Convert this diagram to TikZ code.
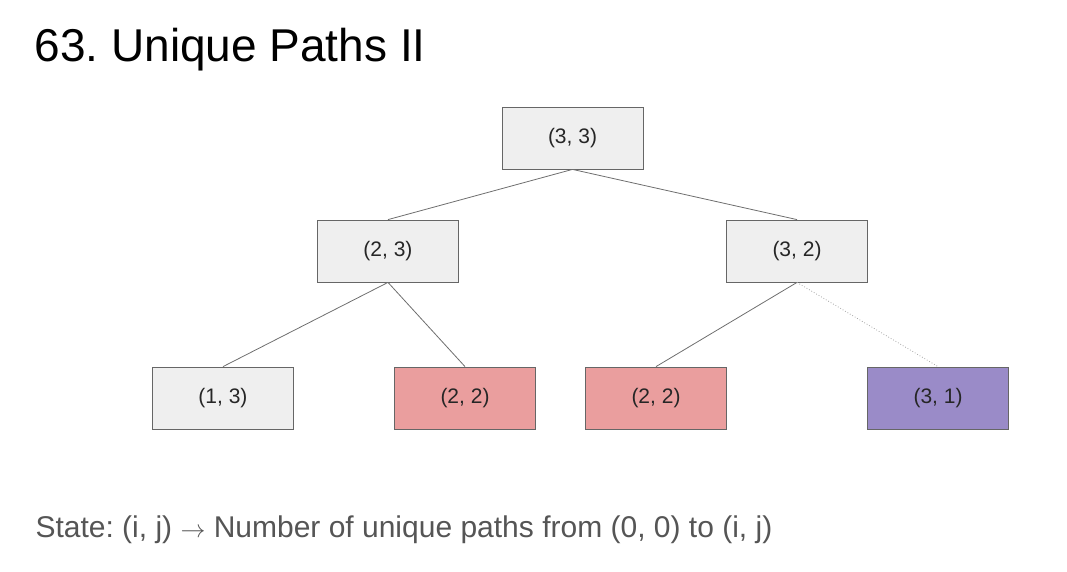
\documentclass[tikz,border=0pt]{standalone}
\usepackage{fontspec}
\setmainfont{Liberation Sans}
\usepackage{tikz}
\frenchspacing
\definecolor{boxgray}{HTML}{EFEFEF}
\definecolor{boxred}{HTML}{EA9E9E}
\definecolor{boxpurple}{HTML}{9A8BC8}
\definecolor{edgegray}{HTML}{6E6E6E}
\definecolor{textgray}{HTML}{555555}
\begin{document}
\begin{tikzpicture}[x=1pt,y=-1pt,
		state/.style={draw=gray!80!black,line width=0.8pt,fill=boxgray,minimum width=141pt,minimum height=62pt,inner sep=0pt,font=\fontsize{21}{24}\selectfont,text=black!85},
		edge/.style={draw=edgegray,line width=0.8pt}]
			\useasboundingbox (0,0) rectangle (1067,572);
			\node[anchor=base west,font=\fontsize{46}{50}\selectfont] (title) at (31,62) {63. Unique Paths II};
			\node[state] (s33) at (572.5,138) {(3, 3)};
			\node[state] (s23) at (388,251) {(2, 3)};
			\node[state] (s32) at (797,251) {(3, 2)};
			\node[state] (s13) at (223,398) {(1, 3)};
			\node[state,fill=boxred] (s22a) at (465,398) {(2, 2)};
			\node[state,fill=boxred] (s22b) at (656,398) {(2, 2)};
			\node[state,fill=boxpurple] (s31) at (938,398) {(3, 1)};
			\draw[edge](s33.south)--(s23.north);
			\draw[edge](s33.south)--(s32.north);
			\draw[edge](s23.south)--(s13.north);
			\draw[edge](s23.south)--(s22a.north);
			\draw[edge](s32.south)--(s22b.north);
			\draw[edge,draw=gray!70,dotted](s32.south)--(s31.north);
			\node[anchor=base west,text=textgray,font=\fontsize{30}{34}\selectfont] (state) at (32,537) {State: (i, j) $\rightarrow$ Number of unique paths from (0, 0) to (i, j)};
		\end{tikzpicture}
\end{document}
